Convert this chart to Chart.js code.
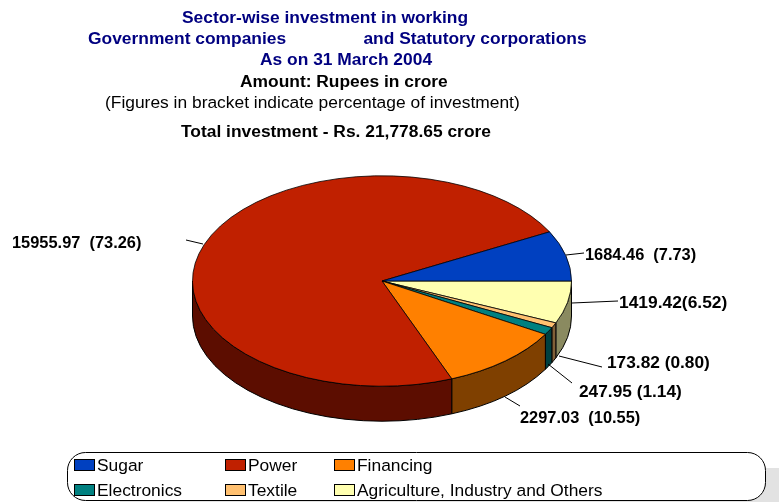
<!DOCTYPE html>
<html>
<head>
<meta charset="utf-8">
<style>html,body{margin:0;padding:0;background:#fff;overflow:hidden}canvas{display:block}</style>
<script src="https://cdn.jsdelivr.net/npm/chart.js@4"></script>
</head>
<body>
<canvas id="c" width="779" height="502"></canvas>
<script>
// Legend order
const categories = ["Sugar","Power","Financing","Electronics","Textile","Agriculture, Industry and Others"];
const amounts = [1684.46,15955.97,2297.03,247.95,173.82,1419.42];
const percents = ["7.73","73.26","10.55","1.14","0.80","6.52"];
const separators = ["  ","  ","  "," "," ",""];
const titleLines = ["Sector-wise investment in working","Government companies                and Statutory corporations","As on 31 March 2004"];
const subLines = ["Amount: Rupees in crore","(Figures in bracket indicate percentage of investment)","Total investment - Rs. 21,778.65 crore"];

// Styles
const topColors = ["#0040C0","#C02000","#FF8000","#008080","#FFC070","#FFFFB0"];
const sideColors = ["#002060","#5C0D00","#7F4000","#004040","#806038","#8A8A60"];
const FONT = '"Liberation Sans", Arial, sans-serif';
const TEXT_SIZE = 17.4;
const labelSizes = [16.4,16.4,16.4,17.3,17.3,17.4];
const DEPTH = 35, K = 105.5/190;
const labelPos = [[585,255,566,255,584,253],[12,243,186,240,203,244],[520,418,505,397,520,406],[579,392,548,364,572,383],[607,363,559,356,602,367],[619,303,572,303,618,301]];
const titlePos = [[182,17],[88,38],[260,59]];
const subPos = [[240,81,"bold"],[105,102,""],[181,131,"bold"]];
const legendCols = [74,225,334], legendRows = [465,490];

// Pie runs clockwise from 3 o'clock, legend runs the other way
const order = categories.map((_,i)=>categories.length-1-i);

const pie3d = {
  id:"pie3d",
  beforeDraw(chart){
    const c = chart.ctx;
    c.save();
    c.fillStyle="#fff"; c.fillRect(0,0,chart.width,chart.height);
    // legend shadow
    c.fillStyle="#E2E2E2"; c.beginPath(); c.roundRect(120,468,690,60,18); c.fill();
    // legend box
    c.fillStyle="#fff"; c.strokeStyle="#000"; c.lineWidth=1;
    c.beginPath(); c.roundRect(67.5,452.5,698,48,18); c.fill(); c.stroke();
    c.textBaseline="middle"; c.textAlign="left";
    c.font=TEXT_SIZE+'px '+FONT;
    categories.forEach((t,i)=>{
      const x=legendCols[i%3], y=legendRows[Math.floor(i/3)];
      c.fillStyle=topColors[i]; c.strokeStyle="#000";
      c.fillRect(x+.5,y-5.5,20,11); c.strokeRect(x+.5,y-5.5,20,11);
      c.fillStyle="#000"; c.fillText(t,x+23,y+1);
    });
    // titles
    c.font='bold '+TEXT_SIZE+'px '+FONT; c.fillStyle="#000080";
    titleLines.forEach((t,i)=>c.fillText(t,titlePos[i][0],titlePos[i][1]+1));
    c.fillStyle="#000";
    subLines.forEach((t,i)=>{c.font=(subPos[i][2]?'bold ':'')+TEXT_SIZE+'px '+FONT; c.fillText(t,subPos[i][0],subPos[i][1]+1);});
    c.restore();
  },
  beforeDatasetsDraw(chart){
    const c = chart.ctx, arcs = chart.getDatasetMeta(0).data;
    c.save();
    c.lineWidth=1; c.strokeStyle="#000"; c.lineJoin="round";
    arcs.forEach((a,i)=>{
      const s=Math.max(a.startAngle,0), e=Math.min(a.endAngle,Math.PI);
      if(e<=s) return;
      const r=a.outerRadius, x=a.x, y=a.y;
      c.beginPath();
      c.ellipse(x,y,r,r*K,0,s,e);
      c.ellipse(x,y+DEPTH,r,r*K,0,e,s,true);
      c.closePath();
      c.fillStyle=sideColors[order[i]];
      c.fill(); c.stroke();
    });
    c.restore();
    const a0=arcs[0];
    c.save();
    c.translate(a0.x,a0.y); c.scale(1,K); c.translate(-a0.x,-a0.y);
  },
  afterDatasetsDraw(chart){
    const c = chart.ctx;
    c.restore();
    c.save();
    c.strokeStyle="#000"; c.lineWidth=1; c.fillStyle="#000";
    c.textBaseline="middle"; c.textAlign="left";
    categories.forEach((_,i)=>{
      const p=labelPos[i];
      c.beginPath(); c.moveTo(p[2],p[3]); c.lineTo(p[4],p[5]); c.stroke();
      c.font='bold '+labelSizes[i]+'px '+FONT;
      c.fillText(amounts[i].toFixed(2)+separators[i]+"("+percents[i]+")",p[0],p[1]);
    });
    c.restore();
  }
};

new Chart(document.getElementById("c"),{
  type:"pie",
  data:{
    labels:order.map(i=>categories[i]),
    datasets:[{
      data:order.map(i=>amounts[i]),
      backgroundColor:order.map(i=>topColors[i]),
      borderColor:"#000",
      borderWidth:1
    }]
  },
  options:{
    responsive:false,
    animation:false,
    rotation:90,
    layout:{padding:{left:192,right:207,top:91,bottom:31}},
    plugins:{legend:{display:false},tooltip:{enabled:false},title:{display:false}}
  },
  plugins:[pie3d]
});
</script>
</body>
</html>
